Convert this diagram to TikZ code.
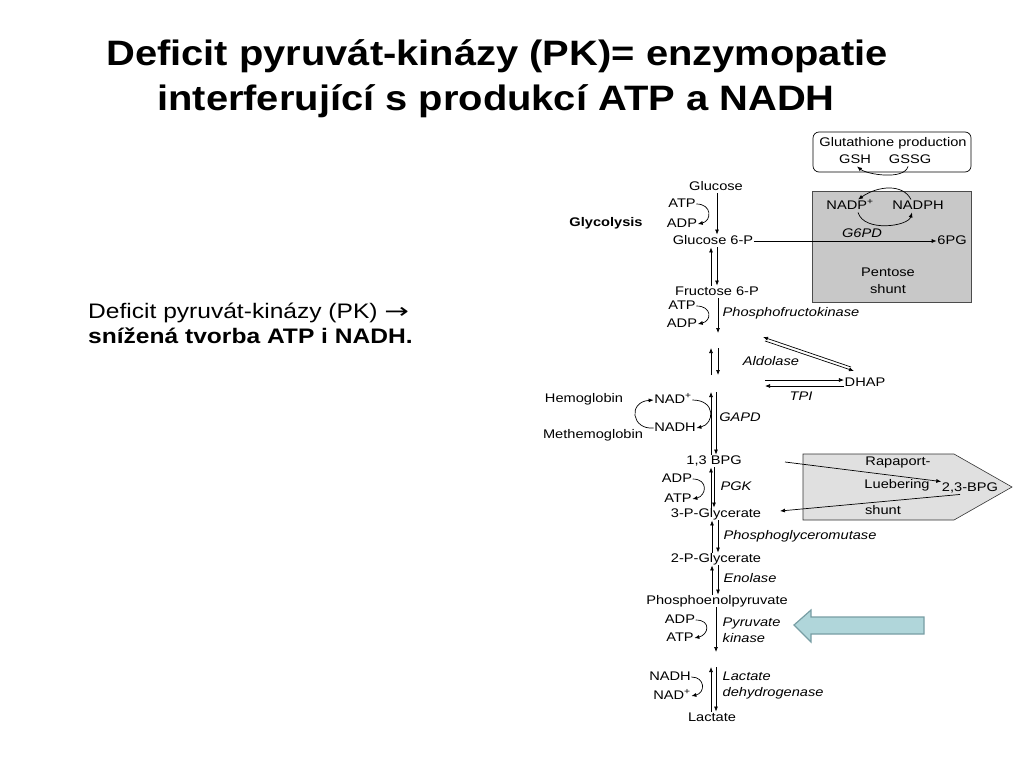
\documentclass[tikz,border=0pt]{standalone}
\usepackage{fontspec}
\setmainfont{Liberation Sans}[FakeStretch=1.17]
\newfontfamily\titlefont{Liberation Sans}[FakeStretch=1.13]
\newfontfamily\arrfont{DejaVu Sans}[FakeStretch=1.4]
\usetikzlibrary{arrows.meta}
\definecolor{pentfill}{RGB}{200,200,200}
\definecolor{rlfill}{RGB}{224,224,224}
\definecolor{bluefill}{RGB}{176,214,218}
\definecolor{bluedraw}{RGB}{120,158,164}
\begin{document}
\begin{tikzpicture}[x=1pt,y=-1pt,
  lbl/.style={inner sep=0.5pt, text height=9pt, text depth=2.5pt, font=\fontsize{12.5}{14}\selectfont},
  itl/.style={lbl, font=\fontsize{12.5}{14}\selectfont\itshape},
  two/.style={inner sep=0.5pt, align=left, font=\fontsize{12.5}{16}\selectfont\itshape},
  arr/.style={-{Latex[length=5pt,width=4pt]}, line width=0.7pt},
  ttl/.style={anchor=base, inner sep=0pt, font=\titlefont\fontsize{35.3}{40}\selectfont\bfseries},
  body/.style={anchor=base west, inner sep=0pt, font=\fontsize{21}{25}\selectfont}]
\useasboundingbox (0,0) rectangle (1024,768);
\fill[white] (0,0) rectangle (1024,768);

% titles
\node[ttl] (t1) at (497,66) {Deficit pyruvát-kinázy (PK)= enzymopatie};
\node[ttl] (t2) at (496,110) {interferující s produkcí ATP a NADH};
\node[body] (b1) at (88,318) {Deficit pyruvát-kinázy (PK) {\arrfont\fontsize{21}{25}\selectfont →}};
\node[body, font=\fontsize{21}{25}\selectfont\bfseries] (b2) at (88,343) {snížená tvorba ATP i NADH.};

% boxes
\node[draw=black!70, fill=pentfill, minimum width=159pt, minimum height=111pt, inner sep=0pt, line width=0.6pt] (pbox) at (891.5,246.5) {};
\node[draw, rounded corners=6pt, minimum width=158pt, minimum height=40pt, inner sep=0pt, line width=0.7pt] (gbox) at (892,152) {};
\filldraw[fill=rlfill, draw=black!80, line width=0.6pt] (803,454) -- (954,454) -- (1012,487) -- (954,520) -- (803,520) -- cycle;
\filldraw[fill=bluefill, draw=bluedraw, line width=1.2pt] (794,625) -- (811,610) -- (811,617) -- (924,617) -- (924,634) -- (811,634) -- (811,642) -- cycle;

% axis and free-end coordinates
\coordinate (U) at (711,0);
\coordinate (D) at (717,0);
\coordinate (c1) at (718,333);
\coordinate (c2) at (718,348);
\coordinate (c3) at (718,375);
\coordinate (c2u) at (711,348);
\coordinate (c3u) at (711,375);
\coordinate (c4) at (716,392);
\coordinate (c4u) at (711,392);
\coordinate (c5) at (716,652);
\coordinate (c6) at (716,667);
\coordinate (c6u) at (711,667);
\coordinate (al1) at (763,337);
\coordinate (al2) at (851,367);
\coordinate (al3) at (765,341);
\coordinate (al4) at (854,371);
\coordinate (tp1) at (765,380);
\coordinate (tp2) at (765,386);
\coordinate (rl1) at (785,462);
\coordinate (rl2) at (780,511);

% glycolysis texts
\node[lbl] (glc) at (716,187) {Glucose};
\node[lbl] (atp1) at (682,204) {ATP};
\node[lbl] (adp1) at (682,224) {ADP};
\node[lbl, font=\fontsize{12.5}{14}\selectfont\bfseries] (glyc) at (606,223) {Glycolysis};
\node[lbl] (g6p) at (713,241) {Glucose 6-P};
\node[lbl] (f6p) at (717,292) {Fructose 6-P};
\node[lbl] (atp2) at (682,306) {ATP};
\node[lbl] (adp2) at (682,324) {ADP};
\node[itl] (pfk) at (791,313) {Phosphofructokinase};
\node[itl] (aldo) at (771,362) {Aldolase};
\node[lbl] (dhap) at (865,383) {DHAP};
\node[itl] (tpi) at (801,397) {TPI};
\node[lbl] (hb) at (584,399) {Hemoglobin};
\node[lbl] (mhb) at (593,435) {Methemoglobin};
\node[lbl] (nad1) at (673,400) {NAD\textsuperscript{+}};
\node[lbl] (nadh1) at (675,428) {NADH};
\node[itl] (gapd) at (740,418) {GAPD};
\node[lbl] (bpg13) at (714,461) {1,3 BPG};
\node[lbl] (adp3) at (677,479) {ADP};
\node[lbl] (atp3) at (678,499) {ATP};
\node[itl] (pgk) at (736,487) {PGK};
\node[lbl] (pg3) at (716,514) {3-P-Glycerate};
\node[itl] (pgm) at (800,536) {Phosphoglyceromutase};
\node[lbl] (pg2) at (716,559) {2-P-Glycerate};
\node[itl] (eno) at (750,579) {Enolase};
\node[lbl] (pep) at (717,601) {Phosphoenolpyruvate};
\node[lbl] (adp4) at (680,620) {ADP};
\node[lbl] (atp4) at (680,638) {ATP};
\node[two, anchor=west] (pk) at (722,630) {Pyruvate\\kinase};
\node[lbl] (nadh2) at (670,677) {NADH};
\node[lbl] (nad2) at (672,696) {NAD\textsuperscript{+}};
\node[two, anchor=west] (ldh) at (722,685) {Lactate\\dehydrogenase};
\node[lbl] (lac) at (712,718) {Lactate};

% pentose shunt texts
\node[lbl] (nadp) at (850,206) {NADP\textsuperscript{+}};
\node[lbl] (nadph) at (918,206) {NADPH};
\node[itl] (g6pd) at (862,234) {G6PD};
\node[lbl] (pg6) at (952,241) {6PG};
\node[lbl, align=center, text height=, text depth=, font=\fontsize{12.5}{17}\selectfont] (pent) at (888,281) {Pentose\\shunt};
\node[lbl] (glutp) at (893,143) {Glutathione production};
\node[lbl] (gsh) at (855,160) {GSH};
\node[lbl] (gssg) at (910,160) {GSSG};

% Rapaport-Luebering texts
\node[lbl] (rap) at (898,462) {Rapaport-};
\node[lbl] (lueb) at (897,485) {Luebering};
\node[lbl] (rshunt) at (883,511) {shunt};
\node[lbl] (bpg23) at (970,488) {2,3-BPG};

% main axis arrows
\draw[arr] (D |- glc.south) -- (D |- g6p.north);
\draw[arr] ([xshift=-6pt]D |- f6p.north) -- ([xshift=-6pt]D |- g6p.south);
\draw[arr] (D |- g6p.south) -- (D |- f6p.north);
\draw[arr] (c1 |- f6p.south) -- (c1);
\draw[arr] (c3u) -- (c2u);
\draw[arr] (c2) -- (c3);
\draw[arr] (U |- bpg13.north) -- (c4u);
\draw[arr] (c4) -- (c4 |- bpg13.north);
\draw[arr] (U |- pg3.north) -- (U |- bpg13.south);
\draw[arr] ([xshift=-3pt]D |- bpg13.south) -- ([xshift=-3pt]D |- pg3.north);
\draw[arr] ([xshift=1pt]U |- pg2.north) -- ([xshift=1pt]U |- pg3.south);
\draw[arr] ([xshift=1pt]D |- pg3.south) -- ([xshift=1pt]D |- pg2.north);
\draw[arr] ([xshift=1pt]U |- pep.north) -- ([xshift=1pt]U |- pg2.south);
\draw[arr] ([xshift=1pt]D |- pg2.south) -- ([xshift=1pt]D |- pep.north);
\draw[arr] (c5 |- pep.south) -- (c5);
\draw[arr] (U |- lac.north) -- (c6u);
\draw[arr] (c6) -- (c6 |- lac.north);

% cofactor curves
\draw[arr] (atp1.east) .. controls +(16,0) and +(14,-3) .. (adp1.east);
\draw[arr] (atp2.east) .. controls +(16,0) and +(14,-3) .. (adp2.east);
\draw[arr] (adp3.east) .. controls +(16,0) and +(14,-3) .. (atp3.east);
\draw[arr] (adp4.east) .. controls +(16,0) and +(14,-3) .. (atp4.east);
\draw[arr] (nadh2.east) .. controls +(14,0) and +(14,-3) .. (nad2.east);

% hemoglobin loop
\draw[arr] (nadh1.west) .. controls +(-22,2) and +(-26,2) .. (nad1.west);
\draw[arr] (nad1.east) .. controls +(24,0) and +(18,-4) .. (nadh1.east);

% aldolase and TPI
\draw[arr] (al2) -- (al1);
\draw[arr] (al3) -- (al4);
\draw[arr] (tp1) -- (dhap.west |- tp1);
\draw[arr] (dhap.west |- tp2) -- (tp2);

% G6P to 6PG
\draw[arr] (g6p.east) -- (pg6.west);

% NADP loop
\draw[arr] ([xshift=-7pt]nadph.north) .. controls +(-8,-16) and +(20,-14) .. ([xshift=8pt]nadp.north);
\draw[arr] ([xshift=8pt]nadp.south) .. controls +(6,20) and +(-4,14) .. ([xshift=-6pt]nadph.south);
\draw[arr] ([xshift=-2pt]gssg.south) .. controls +(-4,14) and +(10,8) .. ([xshift=2pt]gsh.south);

% Rapaport-Luebering arrows
\draw[arr] (rl1) -- (bpg23.north west);
\draw[arr] ([xshift=-10pt]bpg23.south) -- (rl2);
\end{tikzpicture}
\end{document}
